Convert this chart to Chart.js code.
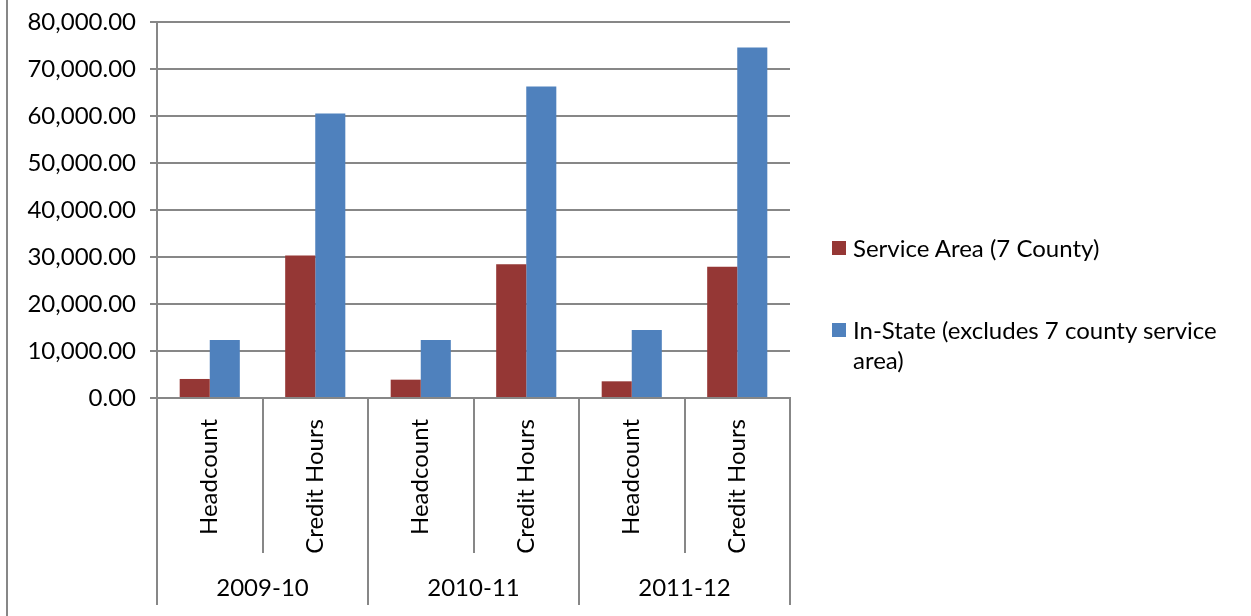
<!DOCTYPE html>
<html>
<head>
<meta charset="utf-8">
<script src="https://cdn.jsdelivr.net/npm/chart.js@4/dist/chart.umd.min.js"></script>
<style>
  html, body { margin: 0; padding: 0; background: #fff; }
  #wrap { position: relative; width: 1251px; height: 616px; }
  #legend { position: absolute; left: 832px; top: 0; font-family: 'Lato', sans-serif; font-size: 24px; color: #000; }
  .item { position: absolute; left: 0; width: 400px; line-height: 30px; }
  .box { position: absolute; left: 0; width: 14px; height: 14px; }
  .txt { margin-left: 21px; display: block; }
</style>
</head>
<body>
<div id="wrap">
  <canvas id="chart" width="1251" height="616"></canvas>
  <div id="legend"></div>
</div>
<script>
const categories = ['Headcount', 'Credit Hours', 'Headcount', 'Credit Hours', 'Headcount', 'Credit Hours'];
const years = ['2009-10', '2010-11', '2011-12'];
const serviceArea = [4050, 30300, 3900, 28450, 3550, 27900];
const inState = [12350, 60550, 12350, 66300, 14480, 74600];
const seriesNames = ['Service Area (7 County)', 'In-State (excludes 7 county service area)'];
const seriesColors = ['#953735', '#4f81bd'];

const gridGray = '#878787';
const font = { family: "'Lato', sans-serif", size: 24 };

const multiLevel = {
    id: 'multiLevel',
    afterDraw(chart) {
        const ctx = chart.ctx;
        const area = chart.chartArea;
        const n = categories.length;
        const step = (area.right - area.left) / n;
        ctx.save();
        ctx.strokeStyle = gridGray;
        ctx.lineWidth = 2;
        for (let i = 0; i <= n; i++) {
            const x = Math.round(area.left + step * i);
            const end = i % 2 === 0 ? 605 : 553;
            ctx.beginPath();
            ctx.moveTo(x, area.bottom);
            ctx.lineTo(x, end);
            ctx.stroke();
        }
        // outer frame line on the left
        ctx.beginPath();
        ctx.moveTo(7, 0);
        ctx.lineTo(7, 616);
        ctx.stroke();

        ctx.fillStyle = '#000';
        ctx.font = font.size + 'px ' + font.family;
        ctx.textAlign = 'center';
        ctx.textBaseline = 'middle';
        years.forEach((y, i) => {
            const cx = area.left + step * (2 * i + 1);
            ctx.fillText(y, cx, 588);
        });
        ctx.restore();
    }
};

const chart = new Chart(document.getElementById('chart'), {
    type: 'bar',
    data: {
        labels: categories,
        datasets: [
            { label: seriesNames[0], data: serviceArea, backgroundColor: seriesColors[0] },
            { label: seriesNames[1], data: inState, backgroundColor: seriesColors[1] }
        ]
    },
    options: {
        responsive: false,
        animation: false,
        events: [],
        datasets: { bar: { categoryPercentage: 0.57, barPercentage: 1.0 } },
        layout: { padding: { left: 0, top: 22, right: 461, bottom: 0 } },
        plugins: { legend: { display: false }, tooltip: { enabled: false } },
        scales: {
            x: {
                grid: { display: false },
                border: { color: gridGray, width: 2 },
                ticks: {
                    autoSkip: false,
                    minRotation: 90,
                    maxRotation: 90,
                    padding: 13,
                    color: '#000',
                    font
                },
                afterFit(scale) {
                    scale.height = 218;
                    scale.paddingLeft = 0;
                    scale.paddingRight = 0;
                }
            },
            y: {
                min: 0,
                max: 80000,
                ticks: {
                    stepSize: 10000,
                    color: '#000',
                    padding: 14,
                    font,
                    callback: v => v.toLocaleString('en-US', { minimumFractionDigits: 2, maximumFractionDigits: 2 })
                },
                grid: { color: gridGray, lineWidth: 2, tickLength: 7 },
                border: { color: gridGray, width: 2 },
                afterFit(scale) {
                    scale.width = 157;
                    scale.paddingTop = 0;
                    scale.paddingBottom = 0;
                }
            }
        }
    },
    plugins: [multiLevel]
});

// legend built from the chart's datasets
const legend = document.getElementById('legend');
const legendTops = [233, 315];
chart.data.datasets.forEach((ds, i) => {
    const item = document.createElement('div');
    item.className = 'item';
    item.style.top = legendTops[i] + 'px';
    item.innerHTML = '<span class="box" style="top:8px;background:' + ds.backgroundColor + '"></span><span class="txt"></span>';
    item.querySelector('.txt').textContent = ds.label;
    legend.appendChild(item);
});
</script>
</body>
</html>
